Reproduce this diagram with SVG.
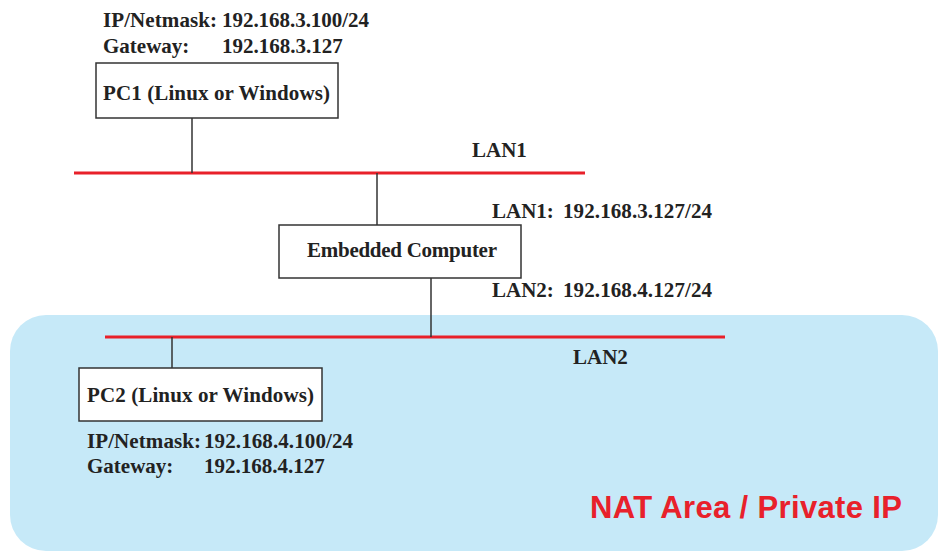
<svg xmlns="http://www.w3.org/2000/svg" width="940" height="551" viewBox="0 0 940 551">
<style>
.t{font-family:"Liberation Serif","Times New Roman",serif;font-weight:bold;font-size:21px;fill:#222}
.box{fill:#fff;stroke:#333;stroke-width:1.5}
.lan{stroke:#E8202A;stroke-width:3;fill:none}
.wire{stroke:#333;stroke-width:1.5;fill:none}
</style>
<rect x="0" y="0" width="940" height="551" fill="#fff"/>
<g id="nat-area">
<rect x="10" y="315" width="928" height="236" rx="36" fill="#C6E9F8"/>
<text x="590" y="518" font-family="'Liberation Sans',Arial,sans-serif" font-weight="bold" font-size="31" fill="#E8212B" textLength="312">NAT Area / Private IP</text>
</g>
<g id="connectors">
<line class="lan" x1="74" y1="173" x2="585" y2="173"/>
<line class="lan" x1="105" y1="337" x2="725" y2="337"/>
<line class="wire" x1="192" y1="118" x2="192" y2="173"/>
<line class="wire" x1="377" y1="173" x2="377" y2="225"/>
<line class="wire" x1="431" y1="278" x2="431" y2="337"/>
<line class="wire" x1="172" y1="337" x2="172" y2="368"/>
</g>
<g id="lan1-label"><text class="t" x="472" y="157">LAN1</text></g>
<g id="lan2-label"><text class="t" x="573" y="364">LAN2</text></g>
<g id="pc1">
<text class="t" x="103" y="27" textLength="114">IP/Netmask:</text>
<text class="t" x="222" y="27" textLength="147">192.168.3.100/24</text>
<text class="t" x="103" y="53">Gateway:</text>
<text class="t" x="222" y="53">192.168.3.127</text>
<rect class="box" x="96" y="63" width="242" height="55"/>
<text class="t" x="103" y="100" textLength="227">PC1 (Linux or Windows)</text>
</g>
<g id="embedded">
<rect class="box" x="279" y="225" width="242" height="53"/>
<text class="t" x="307" y="257" font-size="19" fill="#000" textLength="190">Embedded  Computer</text>
<text class="t" x="492" y="218">LAN1:</text>
<text class="t" x="563" y="218" textLength="149">192.168.3.127/24</text>
<text class="t" x="492" y="297">LAN2:</text>
<text class="t" x="563" y="297" textLength="149">192.168.4.127/24</text>
</g>
<g id="pc2">
<rect class="box" x="79" y="368" width="243" height="53"/>
<text class="t" x="87" y="402" textLength="227">PC2 (Linux or Windows)</text>
<text class="t" x="87" y="448" textLength="114">IP/Netmask:</text>
<text class="t" x="204" y="448" textLength="149">192.168.4.100/24</text>
<text class="t" x="87" y="473">Gateway:</text>
<text class="t" x="204" y="473">192.168.4.127</text>
</g>
</svg>
